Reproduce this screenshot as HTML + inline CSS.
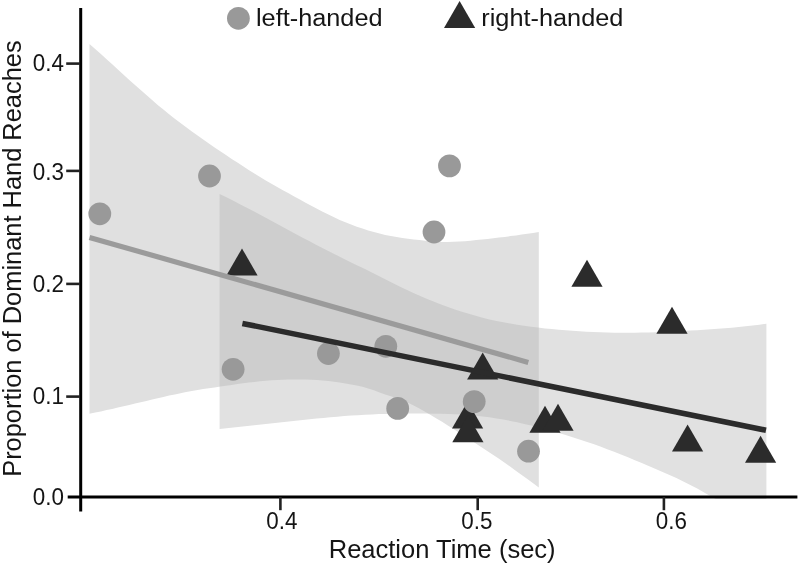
<!DOCTYPE html>
<html><head><meta charset="utf-8"><title>Reaction Time chart</title>
<style>html,body{margin:0;padding:0;background:#fff;}svg{display:block;}</style></head>
<body>
<svg width="800" height="566" viewBox="0 0 800 566">
<rect width="800" height="566" fill="#fff"/>
<defs><clipPath id="plot"><rect x="82" y="0" width="718" height="499"/></clipPath><clipPath id="lightclip"><path d="M89.5,44.0 L95.2,49.0 L100.9,54.0 L106.6,59.2 L112.2,64.3 L117.9,69.5 L123.6,74.7 L129.3,79.9 L135.0,85.0 L140.7,90.1 L146.4,95.1 L152.1,100.1 L157.7,104.9 L163.4,109.6 L169.1,114.2 L174.8,118.7 L180.5,123.1 L186.2,127.3 L191.9,131.5 L197.6,135.6 L203.2,139.6 L208.9,143.5 L214.6,147.4 L220.3,151.3 L226.0,155.1 L231.7,158.9 L237.4,162.6 L243.1,166.3 L248.7,169.9 L254.4,173.5 L260.1,177.0 L265.8,180.4 L271.5,183.8 L277.2,187.0 L282.9,190.2 L288.6,193.3 L294.2,196.4 L299.9,199.5 L305.6,202.7 L311.3,205.8 L317.0,208.8 L322.7,211.8 L328.4,214.6 L334.1,217.3 L339.7,219.9 L345.4,222.3 L351.1,224.6 L356.8,226.7 L362.5,228.6 L368.2,230.4 L373.9,232.1 L379.6,233.6 L385.2,234.9 L390.9,236.1 L396.6,237.0 L402.3,237.9 L408.0,238.7 L413.7,239.4 L419.4,240.1 L425.1,240.8 L430.7,241.3 L436.4,241.7 L442.1,241.9 L447.8,242.0 L453.5,241.8 L459.2,241.6 L464.9,241.2 L470.6,240.7 L476.2,240.1 L481.9,239.6 L487.6,238.9 L493.3,238.3 L499.0,237.6 L504.7,236.9 L510.4,236.1 L516.1,235.4 L521.7,234.6 L527.4,233.7 L533.1,232.9 L538.8,232.0 L538.8,487.4 L533.1,483.3 L527.4,479.1 L521.7,475.0 L516.1,470.9 L510.4,466.8 L504.7,462.8 L499.0,458.8 L493.3,454.9 L487.6,451.2 L481.9,447.5 L476.2,443.8 L470.6,440.1 L464.9,436.4 L459.2,432.7 L453.5,429.0 L447.8,425.4 L442.1,421.8 L436.4,418.4 L430.7,415.0 L425.1,411.7 L419.4,408.6 L413.7,405.6 L408.0,402.8 L402.3,400.4 L396.6,398.2 L390.9,396.3 L385.2,394.4 L379.6,392.4 L373.9,390.3 L368.2,388.4 L362.5,386.8 L356.8,385.5 L351.1,384.4 L345.4,383.4 L339.7,382.5 L334.1,381.8 L328.4,381.1 L322.7,380.6 L317.0,380.1 L311.3,379.8 L305.6,379.6 L299.9,379.5 L294.2,379.4 L288.6,379.5 L282.9,379.7 L277.2,379.9 L271.5,380.3 L265.8,380.8 L260.1,381.3 L254.4,381.9 L248.7,382.6 L243.1,383.3 L237.4,384.1 L231.7,384.9 L226.0,385.7 L220.3,386.6 L214.6,387.4 L208.9,388.2 L203.2,389.1 L197.6,390.0 L191.9,391.0 L186.2,392.1 L180.5,393.2 L174.8,394.4 L169.1,395.6 L163.4,396.9 L157.7,398.2 L152.1,399.5 L146.4,400.9 L140.7,402.2 L135.0,403.6 L129.3,404.9 L123.6,406.3 L117.9,407.6 L112.2,408.9 L106.6,410.1 L100.9,411.4 L95.2,412.6 L89.5,413.7Z"/></clipPath></defs>
<g clip-path="url(#plot)">
<path d="M89.5,44.0 L95.2,49.0 L100.9,54.0 L106.6,59.2 L112.2,64.3 L117.9,69.5 L123.6,74.7 L129.3,79.9 L135.0,85.0 L140.7,90.1 L146.4,95.1 L152.1,100.1 L157.7,104.9 L163.4,109.6 L169.1,114.2 L174.8,118.7 L180.5,123.1 L186.2,127.3 L191.9,131.5 L197.6,135.6 L203.2,139.6 L208.9,143.5 L214.6,147.4 L220.3,151.3 L226.0,155.1 L231.7,158.9 L237.4,162.6 L243.1,166.3 L248.7,169.9 L254.4,173.5 L260.1,177.0 L265.8,180.4 L271.5,183.8 L277.2,187.0 L282.9,190.2 L288.6,193.3 L294.2,196.4 L299.9,199.5 L305.6,202.7 L311.3,205.8 L317.0,208.8 L322.7,211.8 L328.4,214.6 L334.1,217.3 L339.7,219.9 L345.4,222.3 L351.1,224.6 L356.8,226.7 L362.5,228.6 L368.2,230.4 L373.9,232.1 L379.6,233.6 L385.2,234.9 L390.9,236.1 L396.6,237.0 L402.3,237.9 L408.0,238.7 L413.7,239.4 L419.4,240.1 L425.1,240.8 L430.7,241.3 L436.4,241.7 L442.1,241.9 L447.8,242.0 L453.5,241.8 L459.2,241.6 L464.9,241.2 L470.6,240.7 L476.2,240.1 L481.9,239.6 L487.6,238.9 L493.3,238.3 L499.0,237.6 L504.7,236.9 L510.4,236.1 L516.1,235.4 L521.7,234.6 L527.4,233.7 L533.1,232.9 L538.8,232.0 L538.8,487.4 L533.1,483.3 L527.4,479.1 L521.7,475.0 L516.1,470.9 L510.4,466.8 L504.7,462.8 L499.0,458.8 L493.3,454.9 L487.6,451.2 L481.9,447.5 L476.2,443.8 L470.6,440.1 L464.9,436.4 L459.2,432.7 L453.5,429.0 L447.8,425.4 L442.1,421.8 L436.4,418.4 L430.7,415.0 L425.1,411.7 L419.4,408.6 L413.7,405.6 L408.0,402.8 L402.3,400.4 L396.6,398.2 L390.9,396.3 L385.2,394.4 L379.6,392.4 L373.9,390.3 L368.2,388.4 L362.5,386.8 L356.8,385.5 L351.1,384.4 L345.4,383.4 L339.7,382.5 L334.1,381.8 L328.4,381.1 L322.7,380.6 L317.0,380.1 L311.3,379.8 L305.6,379.6 L299.9,379.5 L294.2,379.4 L288.6,379.5 L282.9,379.7 L277.2,379.9 L271.5,380.3 L265.8,380.8 L260.1,381.3 L254.4,381.9 L248.7,382.6 L243.1,383.3 L237.4,384.1 L231.7,384.9 L226.0,385.7 L220.3,386.6 L214.6,387.4 L208.9,388.2 L203.2,389.1 L197.6,390.0 L191.9,391.0 L186.2,392.1 L180.5,393.2 L174.8,394.4 L169.1,395.6 L163.4,396.9 L157.7,398.2 L152.1,399.5 L146.4,400.9 L140.7,402.2 L135.0,403.6 L129.3,404.9 L123.6,406.3 L117.9,407.6 L112.2,408.9 L106.6,410.1 L100.9,411.4 L95.2,412.6 L89.5,413.7Z" fill="#e0e0e0"/>
<path d="M219.6,193.9 L226.5,197.3 L233.4,200.8 L240.4,204.4 L247.3,208.0 L254.2,211.6 L261.1,215.3 L268.1,219.0 L275.0,222.7 L281.9,226.5 L288.8,230.3 L295.7,234.0 L302.7,237.7 L309.6,241.3 L316.5,244.9 L323.4,248.6 L330.3,252.1 L337.3,255.6 L344.2,259.0 L351.1,262.4 L358.0,265.7 L365.0,269.0 L371.9,272.5 L378.8,276.0 L385.7,279.5 L392.6,283.0 L399.6,286.5 L406.5,289.8 L413.4,293.0 L420.3,296.0 L427.2,299.0 L434.2,301.7 L441.1,304.4 L448.0,306.9 L454.9,309.4 L461.9,311.7 L468.8,313.8 L475.7,315.8 L482.6,317.7 L489.5,319.4 L496.5,320.9 L503.4,322.3 L510.3,323.6 L517.2,324.8 L524.1,325.8 L531.1,326.8 L538.0,327.6 L544.9,328.4 L551.8,329.1 L558.8,329.7 L565.7,330.3 L572.6,330.8 L579.5,331.2 L586.4,331.7 L593.4,332.0 L600.3,332.3 L607.2,332.6 L614.1,332.7 L621.0,332.8 L628.0,332.8 L634.9,332.8 L641.8,332.6 L648.7,332.5 L655.7,332.2 L662.6,332.0 L669.5,331.7 L676.4,331.3 L683.3,331.0 L690.3,330.6 L697.2,330.2 L704.1,329.8 L711.0,329.3 L717.9,328.8 L724.9,328.3 L731.8,327.7 L738.7,327.1 L745.6,326.3 L752.6,325.6 L759.5,324.7 L766.4,323.8 L766.4,525.0 L759.5,520.7 L752.6,516.9 L745.6,513.4 L738.7,510.1 L731.8,506.8 L724.9,503.6 L717.9,500.1 L711.0,496.5 L704.1,492.5 L697.2,488.6 L690.3,484.9 L683.3,481.5 L676.4,478.1 L669.5,475.0 L662.6,471.9 L655.7,468.9 L648.7,466.0 L641.8,463.1 L634.9,460.2 L628.0,457.3 L621.0,454.5 L614.1,451.8 L607.2,449.2 L600.3,446.6 L593.4,444.1 L586.4,441.7 L579.5,439.4 L572.6,437.2 L565.7,435.1 L558.8,433.0 L551.8,431.1 L544.9,429.2 L538.0,427.3 L531.1,425.6 L524.1,423.9 L517.2,422.3 L510.3,420.9 L503.4,419.6 L496.5,418.4 L489.5,417.3 L482.6,416.4 L475.7,415.7 L468.8,415.1 L461.9,414.6 L454.9,414.2 L448.0,414.0 L441.1,413.8 L434.2,413.7 L427.2,413.6 L420.3,413.6 L413.4,413.6 L406.5,413.6 L399.6,413.7 L392.6,413.8 L385.7,413.9 L378.8,414.1 L371.9,414.4 L365.0,414.8 L358.0,415.2 L351.1,415.6 L344.2,416.1 L337.3,416.7 L330.3,417.2 L323.4,417.9 L316.5,418.5 L309.6,419.2 L302.7,419.9 L295.7,420.7 L288.8,421.4 L281.9,422.2 L275.0,422.9 L268.1,423.7 L261.1,424.5 L254.2,425.3 L247.3,426.0 L240.4,426.8 L233.4,427.6 L226.5,428.3 L219.6,429.0Z" fill="#e1e1e1"/>
<g clip-path="url(#lightclip)"><path d="M219.6,193.9 L226.5,197.3 L233.4,200.8 L240.4,204.4 L247.3,208.0 L254.2,211.6 L261.1,215.3 L268.1,219.0 L275.0,222.7 L281.9,226.5 L288.8,230.3 L295.7,234.0 L302.7,237.7 L309.6,241.3 L316.5,244.9 L323.4,248.6 L330.3,252.1 L337.3,255.6 L344.2,259.0 L351.1,262.4 L358.0,265.7 L365.0,269.0 L371.9,272.5 L378.8,276.0 L385.7,279.5 L392.6,283.0 L399.6,286.5 L406.5,289.8 L413.4,293.0 L420.3,296.0 L427.2,299.0 L434.2,301.7 L441.1,304.4 L448.0,306.9 L454.9,309.4 L461.9,311.7 L468.8,313.8 L475.7,315.8 L482.6,317.7 L489.5,319.4 L496.5,320.9 L503.4,322.3 L510.3,323.6 L517.2,324.8 L524.1,325.8 L531.1,326.8 L538.0,327.6 L544.9,328.4 L551.8,329.1 L558.8,329.7 L565.7,330.3 L572.6,330.8 L579.5,331.2 L586.4,331.7 L593.4,332.0 L600.3,332.3 L607.2,332.6 L614.1,332.7 L621.0,332.8 L628.0,332.8 L634.9,332.8 L641.8,332.6 L648.7,332.5 L655.7,332.2 L662.6,332.0 L669.5,331.7 L676.4,331.3 L683.3,331.0 L690.3,330.6 L697.2,330.2 L704.1,329.8 L711.0,329.3 L717.9,328.8 L724.9,328.3 L731.8,327.7 L738.7,327.1 L745.6,326.3 L752.6,325.6 L759.5,324.7 L766.4,323.8 L766.4,525.0 L759.5,520.7 L752.6,516.9 L745.6,513.4 L738.7,510.1 L731.8,506.8 L724.9,503.6 L717.9,500.1 L711.0,496.5 L704.1,492.5 L697.2,488.6 L690.3,484.9 L683.3,481.5 L676.4,478.1 L669.5,475.0 L662.6,471.9 L655.7,468.9 L648.7,466.0 L641.8,463.1 L634.9,460.2 L628.0,457.3 L621.0,454.5 L614.1,451.8 L607.2,449.2 L600.3,446.6 L593.4,444.1 L586.4,441.7 L579.5,439.4 L572.6,437.2 L565.7,435.1 L558.8,433.0 L551.8,431.1 L544.9,429.2 L538.0,427.3 L531.1,425.6 L524.1,423.9 L517.2,422.3 L510.3,420.9 L503.4,419.6 L496.5,418.4 L489.5,417.3 L482.6,416.4 L475.7,415.7 L468.8,415.1 L461.9,414.6 L454.9,414.2 L448.0,414.0 L441.1,413.8 L434.2,413.7 L427.2,413.6 L420.3,413.6 L413.4,413.6 L406.5,413.6 L399.6,413.7 L392.6,413.8 L385.7,413.9 L378.8,414.1 L371.9,414.4 L365.0,414.8 L358.0,415.2 L351.1,415.6 L344.2,416.1 L337.3,416.7 L330.3,417.2 L323.4,417.9 L316.5,418.5 L309.6,419.2 L302.7,419.9 L295.7,420.7 L288.8,421.4 L281.9,422.2 L275.0,422.9 L268.1,423.7 L261.1,424.5 L254.2,425.3 L247.3,426.0 L240.4,426.8 L233.4,427.6 L226.5,428.3 L219.6,429.0Z" fill="#cecece"/></g>
</g>
<g fill="#2b2b2b"><polygon points="226.4,275.4 257.6,275.4 242.0,248.4"/><polygon points="467.1,379.5 498.3,379.5 482.7,352.5"/><polygon points="452.0,428.5 483.2,428.5 467.6,401.5"/><polygon points="452.3,442.2 483.5,442.2 467.9,415.2"/><polygon points="529.4,432.8 560.6,432.8 545.0,405.8"/><polygon points="542.4,430.7 573.6,430.7 558.0,403.7"/><polygon points="571.4,286.7 602.6,286.7 587.0,259.7"/><polygon points="656.4,333.7 687.6,333.7 672.0,306.7"/><polygon points="672.0,451.5 703.2,451.5 687.6,424.5"/><polygon points="745.0,462.8 776.2,462.8 760.6,435.8"/></g>
<g fill="#999"><circle cx="99.8" cy="213.8" r="11.4"/><circle cx="209.5" cy="176" r="11.4"/><circle cx="233.1" cy="369.3" r="11.4"/><circle cx="328.4" cy="353.5" r="11.4"/><circle cx="385.8" cy="346.3" r="11.4"/><circle cx="397.7" cy="408.4" r="11.4"/><circle cx="449.5" cy="165.9" r="11.4"/><circle cx="434" cy="232" r="11.4"/><circle cx="474.2" cy="401.6" r="11.4"/><circle cx="528.5" cy="451.2" r="11.4"/></g>
<line x1="89.5" y1="237.4" x2="528.3" y2="362.4" stroke="#9b9b9b" stroke-width="5.2"/>
<line x1="242.4" y1="323.4" x2="766" y2="430.2" stroke="#2b2b2b" stroke-width="5.6"/>
<g stroke="#000" stroke-width="3.2" fill="none">
<line x1="80.7" y1="8" x2="80.7" y2="511.4" stroke-width="3.0"/>
<line x1="67.7" y1="497" x2="797.4" y2="497"/>
</g>
<g stroke="#222" stroke-width="2.6" fill="none">
<line x1="66.2" y1="63.6" x2="80" y2="63.6"/>
<line x1="66.2" y1="170.9" x2="80" y2="170.9"/>
<line x1="66.2" y1="283.9" x2="80" y2="283.9"/>
<line x1="66.2" y1="396.6" x2="80" y2="396.6"/>
<line x1="280.4" y1="497" x2="280.4" y2="510.2"/>
<line x1="477.7" y1="497" x2="477.7" y2="510.2"/>
<line x1="663.9" y1="497" x2="663.9" y2="510.2"/>
</g>
<text transform="translate(32.7,71.0) scale(0.975,1)" font-family="'Liberation Sans', Arial, sans-serif" font-size="23" fill="#151515">0.4</text>
<text transform="translate(32.7,179.8) scale(0.975,1)" font-family="'Liberation Sans', Arial, sans-serif" font-size="23" fill="#151515">0.3</text>
<text transform="translate(32.7,291.5) scale(0.975,1)" font-family="'Liberation Sans', Arial, sans-serif" font-size="23" fill="#151515">0.2</text>
<text transform="translate(32.7,403.6) scale(0.975,1)" font-family="'Liberation Sans', Arial, sans-serif" font-size="23" fill="#151515">0.1</text>
<text transform="translate(32.7,505.3) scale(0.975,1)" font-family="'Liberation Sans', Arial, sans-serif" font-size="23" fill="#151515">0.0</text>
<text transform="translate(266.2,529.1) scale(0.975,1)" font-family="'Liberation Sans', Arial, sans-serif" font-size="23" fill="#151515">0.4</text>
<text transform="translate(461.2,529.1) scale(0.975,1)" font-family="'Liberation Sans', Arial, sans-serif" font-size="23" fill="#151515">0.5</text>
<text transform="translate(655.6999999999999,529.1) scale(0.975,1)" font-family="'Liberation Sans', Arial, sans-serif" font-size="23" fill="#151515">0.6</text>
<text transform="translate(328.7,557.9) scale(1.009,1)" font-family="'Liberation Sans', Arial, sans-serif" font-size="25.3" fill="#151515">Reaction Time (sec)</text>
<text transform="translate(21.0,476.8) rotate(-90) scale(0.993,1)" font-family="'Liberation Sans', Arial, sans-serif" font-size="25.6" fill="#151515">Proportion of Dominant Hand Reaches</text>
<text transform="translate(256.0,26.3) scale(1.086,1)" font-family="'Liberation Sans', Arial, sans-serif" font-size="23.3" fill="#151515">left-handed</text>
<text transform="translate(481.3,26.3) scale(1.086,1)" font-family="'Liberation Sans', Arial, sans-serif" font-size="23.3" fill="#151515">right-handed</text>
<circle cx="238.4" cy="18.3" r="11.4" fill="#999"/>
<g fill="#2b2b2b"><polygon points="444.0,28.1 475.2,28.1 459.6,1.1"/></g>
</svg>
</body></html>
